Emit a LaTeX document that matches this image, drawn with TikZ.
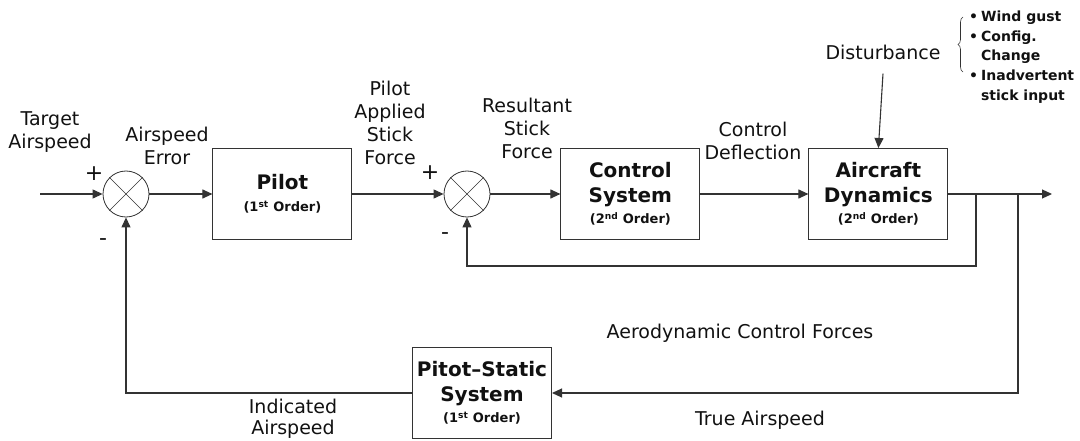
\documentclass[tikz,border=0pt]{standalone}
\usepackage{fontspec}
\setmainfont{DejaVu Sans}
\usetikzlibrary{arrows.meta,positioning,decorations.pathreplacing}
\definecolor{Ink}{HTML}{111111}
\definecolor{Wire}{HTML}{333333}
\newcommand{\lblfont}{\fontsize{19}{23}\selectfont}
\newcommand{\ttlfont}{\fontsize{20}{25}\selectfont\bfseries}
\newcommand{\ordfont}{\fontsize{13}{16}\selectfont\bfseries}
\newcommand{\bul}{\textbullet\kern3pt}
\tikzset{
  blockbox/.style={draw=Wire,line width=1pt,minimum width=139pt,minimum height=91pt,align=center,font=\ttlfont,text=Ink,inner sep=0pt},
  sumnode/.style={draw=Wire,circle,line width=0.8pt,minimum size=46pt,inner sep=0pt},
  lbl/.style={align=center,font=\lblfont,text=Ink,inner sep=0pt},
  sign/.style={font=\fontsize{22}{22}\selectfont,text=Ink,inner sep=0pt},
  line/.style={-{Triangle[length=10pt,width=9pt]},draw=Wire,line width=1.1pt}
}
\begin{document}
\begin{tikzpicture}[x=1pt,y=-1pt]
  \useasboundingbox (0,0) rectangle (1080,441);
  % forward path
  \node[sumnode] (s1) at (126,194) {};
  \node[blockbox,right=63pt of s1] (pilot) {Pilot\\[-3pt]{\ordfont (1\textsuperscript{st} Order)}};
  \node[sumnode] (s2) at (467,194) {};
  \node[blockbox,right=70pt of s2] (ctrl) {Control\\System\\[-4pt]{\ordfont (2\textsuperscript{nd} Order)}};
  \node[blockbox,right=108pt of ctrl] (acft) {Aircraft\\Dynamics\\[-4pt]{\ordfont (2\textsuperscript{nd} Order)}};
  \node[blockbox] (pitot) at (482,393) {Pitot--Static\\System\\[-4pt]{\ordfont (1\textsuperscript{st} Order)}};
  \foreach \s in {s1,s2} {
    \draw[draw=Wire,line width=0.7pt] (\s.north east) -- (\s.south west);
    \draw[draw=Wire,line width=0.7pt] (\s.north west) -- (\s.south east);
  }
  \coordinate (in) at (40,194);
  \coordinate (out) at (1052,194);
  \coordinate (tap1) at (976,194);
  \coordinate (tap2) at (1018,194);
  % labels
  \node[lbl] (target) at (50,132) {Target\\Airspeed};
  \node[lbl] (err) at (167,146) {Airspeed\\Error};
  \node[sign] (p1) at (94,174) {+};
  \node[sign] (m1) at (103,242) {-};
  \node[lbl] (applied) at (390,123) {Pilot\\Applied\\Stick\\Force};
  \node[sign] (p2) at (430,173) {+};
  \node[sign] (m2) at (445,236) {-};
  \node[lbl] (result) at (527,128) {Resultant\\Stick\\Force};
  \node[lbl] (defl) at (753,141) {Control\\Deflection};
  \node[lbl] (dist) at (883,52) {Disturbance};
  \node[lbl] (aero) at (740,333) {Aerodynamic Control Forces};
  \node[lbl] (tas) at (760,420) {True Airspeed};
  \node[lbl,font=\fontsize{19}{21}\selectfont] (ias) at (293,419) {Indicated\\Airspeed};
  \node[anchor=west,align=left,font=\fontsize{14}{19.7}\selectfont\bfseries,text=Ink,inner sep=0pt] (causes) at (969,57)
    {\bul Wind gust\\\bul Config.\\\phantom{\bul}Change\\\bul Inadvertent\\\phantom{\bul}stick input};
  \draw[draw=Wire,line width=0.6pt,decorate,decoration={brace,amplitude=5pt}] (963,72) -- (963,17);
  % connectors
  \draw[line] (in) -- (s1.west);
  \draw[line] (s1.east) -- (pilot.west);
  \draw[line] (pilot.east) -- (s2.west);
  \draw[line] (s2.east) -- (ctrl.west);
  \draw[line] (ctrl.east) -- (acft.west);
  \draw[line] (acft.east) -- (out);
  \draw[line] (dist.south) ++(0,14) -- (acft.north);
  \draw[line] (tap1) -- ++(0,72) -| (s2.south);
  \draw[line] (tap2) |- (pitot.east);
  \draw[line] (pitot.west) -| (s1.south);
\end{tikzpicture}
\end{document}
